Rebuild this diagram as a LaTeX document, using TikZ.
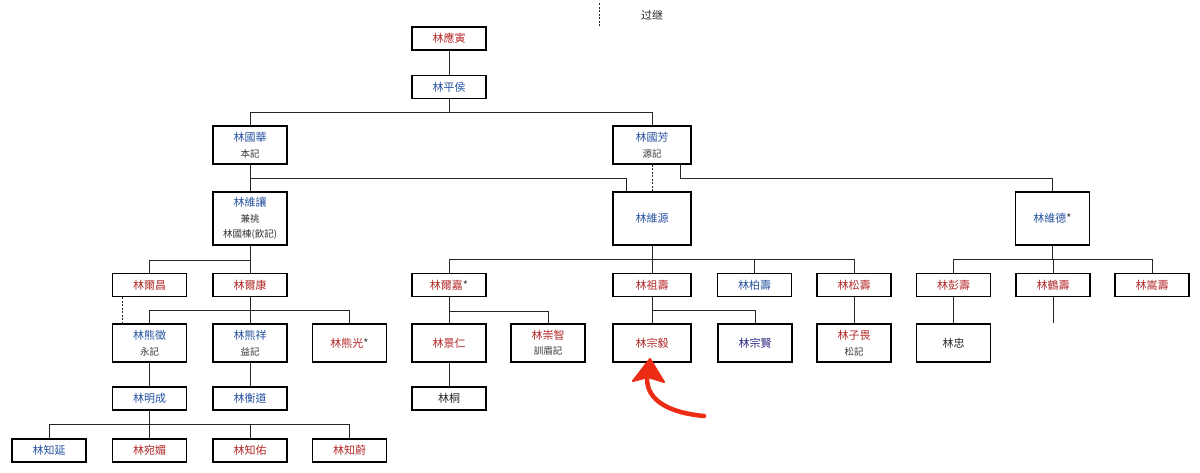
\documentclass[tikz,border=0pt]{standalone}
\usepackage{fontspec}
\setmainfont{Noto Sans CJK TC}
\definecolor{nred}{RGB}{178,38,38}
\definecolor{nblue}{RGB}{38,82,160}
\definecolor{nnavy}{RGB}{40,40,128}
\definecolor{arrowred}{RGB}{236,44,20}
\newcommand\subtxt[1]{{\color{black!80}\fontsize{9.5}{15.5}\selectfont #1}}
\tikzset{
  box/.style={draw=black, line width=1.9pt, minimum width=74pt, minimum height=23pt,
    inner sep=0pt, align=center, font=\fontsize{11}{15.5}\selectfont, fill=white},
  box2/.style={box, minimum height=38pt},
  box3/.style={box, minimum height=53pt},
  wide/.style={minimum width=78pt},
  rd/.style={text=nred}, bl/.style={text=nblue}, nv/.style={text=nnavy}, bk/.style={text=black!85},
  link/.style={draw=black!85, line width=0.9pt},
  adopt/.style={draw=black!85, line width=0.9pt, dash pattern=on 2pt off 1.5pt},
}
\begin{document}
\begin{tikzpicture}[x=1pt,y=-1pt]
\useasboundingbox (0,0) rectangle (1200,472);
% legend
\coordinate (lg1) at (599,3);
\coordinate (lg2) at (599,26);
\draw[adopt] (lg1) -- (lg2);
\node[font=\fontsize{11}{13}\selectfont, text=black!85] (lgt) at (652,15) {过继};

% row 0-2
\node[box,rd] (ying) at (449,38.5) {林應寅};
\node[box,bl] (pinghou) at (449,87) {林平侯};
\node[box2,bl] (guohua) at (250,145) {林國華\\\subtxt{本記}};
\node[box2,bl,wide] (guofang) at (652,145) {林國芳\\\subtxt{源記}};
% row 3
\node[box3,bl] (weirang) at (250,218.5) {林維讓\\\subtxt{兼祧}\\\subtxt{林國棟(飲記)}};
\node[box3,bl,wide] (weiyuan) at (652,218.5) {林維源};
\node[box3,bl] (weide) at (1052.5,218.5) {林維德{\color{black!80}*}};
% row 4
\node[box,rd] (erchang) at (149.5,285) {林爾昌};
\node[box,rd] (erkang) at (250,285) {林爾康};
\node[box,rd] (erjia) at (449,285) {林爾嘉{\color{black!80}*}};
\node[box,rd,wide] (zushou) at (652,285) {林祖壽};
\node[box,bl] (boshou) at (754.5,285) {林柏壽};
\node[box,rd] (songshou) at (854,285) {林松壽};
\node[box,rd] (pengshou) at (953.5,285) {林彭壽};
\node[box,rd] (heshou) at (1053,285) {林鶴壽};
\node[box,rd] (songshoub) at (1152,285) {林嵩壽};
% row 5
\node[box2,bl] (xiongzheng) at (149.5,343) {林熊徵\\\subtxt{永記}};
\node[box2,bl] (xiongxiang) at (250,343) {林熊祥\\\subtxt{益記}};
\node[box2,rd] (xiongguang) at (349.5,343) {林熊光{\color{black!80}*}};
\node[box2,rd] (jingren) at (449,343) {林景仁};
\node[box2,rd] (chongzhi) at (548,343) {林崇智\\\subtxt{訓眉記}};
\node[box2,rd,wide] (zongyi) at (652,343) {林宗毅};
\node[box2,nv] (zongxian) at (755,343) {林宗賢};
\node[box2,rd] (ziwei) at (854,343) {林子畏\\\subtxt{松記}};
\node[box2,bk] (zhong) at (953.5,343) {林忠};
% row 6
\node[box,bl] (mingcheng) at (149.5,398.5) {林明成};
\node[box,bl] (hengdao) at (250,398.5) {林衡道};
\node[box,bk] (tong) at (449,398.5) {林桐};
% row 7
\node[box,bl] (zhiyan) at (49,450.5) {林知延};
\node[box,rd] (wanmei) at (149.5,450.5) {林宛媚};
\node[box,rd] (zhiyou) at (250,450.5) {林知佑};
\node[box,rd] (zhiwei) at (349.5,450.5) {林知蔚};

% connectors
\draw[link] (ying) -- (pinghou);
\draw[link] (pinghou.south) -- (pinghou.south |- 0,112);
\draw[link] (guohua.north) -- (guohua.north |- 0,112) -- (guofang.north |- 0,112) -- (guofang.north);

\draw[link] (guohua.south) -- (weirang.north);
\coordinate (wyl) at ([xshift=-26pt]weiyuan.north);
\draw[link] (guohua.south |- 0,178) -- (wyl |- 0,178) -- (wyl);
\draw[adopt] (guofang.south) -- (weiyuan.north);
\coordinate (gfr) at ([xshift=28pt]guofang.south);
\draw[link] (gfr) -- (gfr |- 0,178) -- (weide.north |- 0,178) -- (weide.north);

\draw[link] (weirang.south) -- (erkang.north);
\draw[link] (erchang.north) -- (erchang.north |- 0,260) -- (erkang.north |- 0,260);

\draw[link] (weiyuan.south) -- (zushou.north);
\draw[link] (erjia.north) -- (erjia.north |- 0,259) -- (songshou.north |- 0,259) -- (songshou.north);
\draw[link] (boshou.north) -- (boshou.north |- 0,259);

\draw[link] (weide.south) -- (weide.south |- 0,259);
\draw[link] (pengshou.north) -- (pengshou.north |- 0,259) -- (songshoub.north |- 0,259) -- (songshoub.north);
\draw[link] (heshou.north) -- (heshou.north |- 0,259);
\coordinate (hend) at (1053,323);
\draw[link] (heshou.south) -- (hend);

\draw[link] (erkang.south) -- (xiongxiang.north);
\draw[link] (xiongzheng.north) -- (xiongzheng.north |- 0,310) -- (xiongguang.north |- 0,310) -- (xiongguang.north);
\draw[adopt] ([xshift=-27pt]erchang.south) -- ([xshift=-27pt]xiongzheng.north);

\draw[link] (erjia.south) -- (jingren.north);
\draw[link] (jingren.north |- 0,311) -- (chongzhi.north |- 0,311) -- (chongzhi.north);
\draw[link] (zushou.south) -- (zongyi.north);
\draw[link] (zongyi.north |- 0,310) -- (zongxian.north |- 0,310) -- (zongxian.north);
\draw[link] (songshou.south) -- (ziwei.north);
\draw[link] (pengshou.south) -- (zhong.north);

\draw[link] (xiongzheng.south) -- (mingcheng.north);
\draw[link] (xiongxiang.south) -- (hengdao.north);
\draw[link] (jingren.south) -- (tong.north);

\draw[link] (mingcheng.south) -- (wanmei.north);
\draw[link] (zhiyan.north) -- (zhiyan.north |- 0,424) -- (zhiwei.north |- 0,424) -- (zhiwei.north);
\draw[link] (zhiyou.north) -- (zhiyou.north |- 0,424);

% red hand-drawn arrow
\coordinate (ar1) at (704,416);
\coordinate (ar2) at (647,377);
\coordinate (art) at (650,359);
\draw[arrowred, line width=4.5pt, line cap=round, line join=round]
  (ar1) .. controls (672,413) and (646,402) .. (ar2);
\fill[arrowred, draw=arrowred, line width=2pt, line join=round]
  (art) -- (633,381) -- (648,377) -- (664,382) -- cycle;
\end{tikzpicture}
\end{document}
